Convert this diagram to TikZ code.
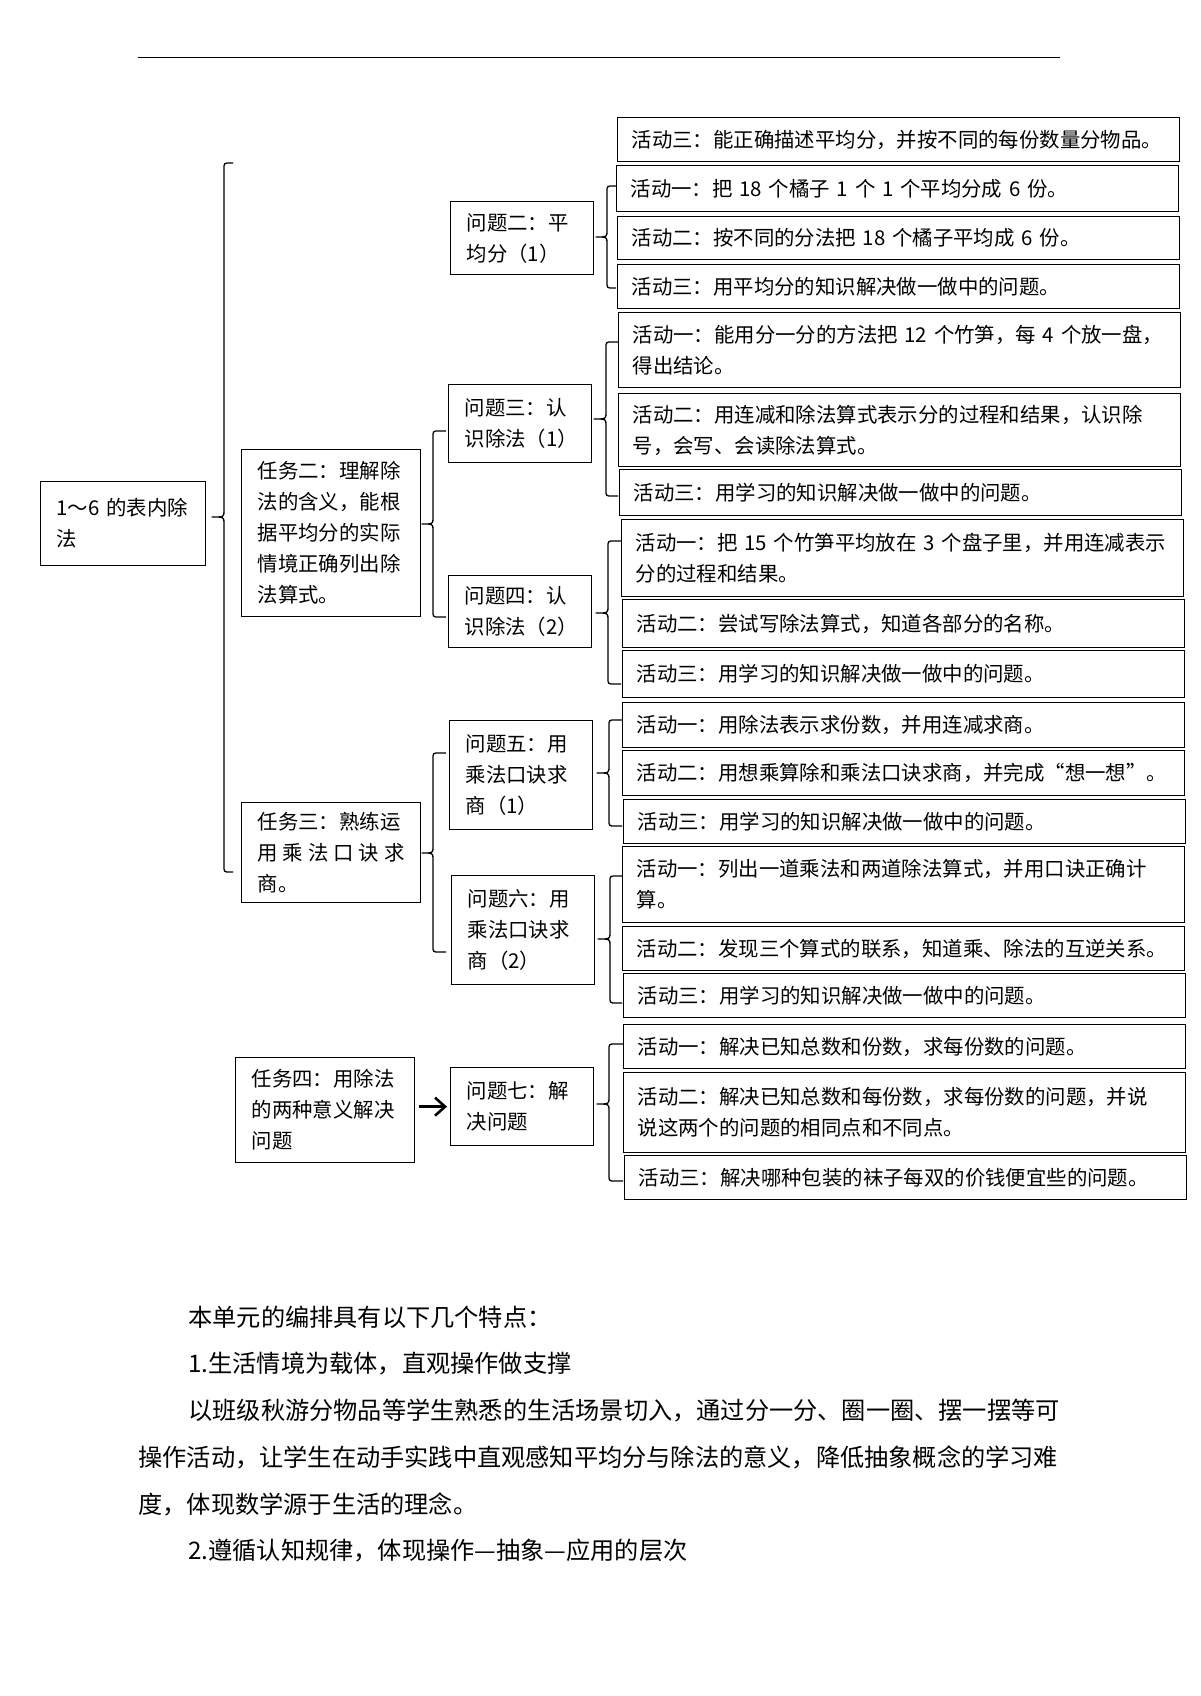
\documentclass[tikz,border=0pt]{standalone}
\usepackage{fontspec}
\setmainfont{Noto Sans CJK SC}
\usetikzlibrary{arrows.meta}

% brace from a parent box to its children: spine x, tip x, hook end x, top y, middle y, bottom y
\newcommand{\treebrace}[6]{%
  \draw[brace] (#3,#4) -- (#1+6,#4) .. controls (#1,#4) .. (#1,#4+6) -- (#1,#5-6)
    .. controls (#1,#5) .. (#2,#5) .. controls (#1,#5) .. (#1,#5+6) -- (#1,#6-6)
    .. controls (#1,#6) .. (#1+6,#6) -- (#3,#6);}

\tikzset{
  box/.style={draw, line width=0.65pt, anchor=north west, align=left, inner ysep=2pt,
    font=\fontsize{10.2pt}{15.5pt}\selectfont},
  actbox/.style={box, inner xsep=7pt, text width=267pt},
  quesbox/.style={box, inner xsep=8pt, text width=55.5pt},
  taskbox/.style={box, inner xsep=8pt, text width=73.5pt},
  rootbox/.style={box, inner xsep=8pt, text width=66.5pt},
  brace/.style={line width=0.65pt, line join=round},
  arrowline/.style={line width=1.3pt, -{Straight Barb[length=5pt,width=9pt]}},
  bodytext/.style={anchor=west, inner sep=0pt, font=\fontsize{12.1pt}{14pt}\selectfont}
}

\begin{document}
\begin{tikzpicture}[x=0.5pt, y=-0.5pt]
    \useasboundingbox (0,0) rectangle (1200,1696);
    \draw[line width=0.5pt] (138,58) -- (1060,58);

    % Unit and tasks
    \node[rootbox, minimum height=42pt] (root) at (40,481) {1～6 的表内除\\法};
    \node[taskbox, minimum height=83.5pt] (t2) at (241,449) {任务二：理解除\\法的含义，能根\\据平均分的实际\\情境正确列出除\\法算式。};
    \node[taskbox, minimum height=50pt] (t3) at (241,802) {任务三：熟练运\\\makebox[\linewidth]{用\hfill 乘\hfill 法\hfill 口\hfill 诀\hfill 求}\\商。};
    \node[taskbox, minimum height=52.5pt] (t4) at (235,1057) {任务四：用除法\\的两种意义解决\\问题};

    % Questions
    \node[quesbox, minimum height=36.5pt] (q2) at (450,201) {问题二：平\\均分（1）};
    \node[quesbox, minimum height=39pt] (q3) at (448,384) {问题三：认\\识除法（1）};
    \node[quesbox, minimum height=36pt] (q4) at (448,575) {问题四：认\\识除法（2）};
    \node[quesbox, minimum height=54.5pt] (q5) at (449,720) {问题五：用\\乘法口诀求\\商（1）};
    \node[quesbox, minimum height=54.5pt] (q6) at (451,875) {问题六：用\\乘法口诀求\\商（2）};
    \node[quesbox, minimum height=39pt] (q7) at (450,1067) {问题七：解\\决问题};

    % Activities
    \node[actbox, minimum height=22pt] (a20) at (617,117) {活动三：能正确描述平均分，并按不同的每份数量分物品。};
    \node[actbox, minimum height=23pt] (a21) at (616,165) {活动一：把~18~个橘子~1~个~1~个平均分成~6~份。};
    \node[actbox, minimum height=21.5pt] (a22) at (617,216) {活动二：按不同的分法把~18~个橘子平均成~6~份。};
    \node[actbox, minimum height=22pt] (a23) at (617,264) {活动三：用平均分的知识解决做一做中的问题。};
    \node[actbox, minimum height=37.5pt] (a31) at (618,312) {活动一：能用分一分的方法把~12~个竹笋，每~4~个放一盘，\\得出结论。};
    \node[actbox, minimum height=36.5pt] (a32) at (618,393) {活动二：用连减和除法算式表示分的过程和结果，认识除\\号，会写、会读除法算式。};
    \node[actbox, minimum height=23pt] (a33) at (619,469) {活动三：用学习的知识解决做一做中的问题。};
    \node[actbox, minimum height=38.5pt] (a41) at (621,519) {活动一：把~15~个竹笋平均放在~3~个盘子里，并用连减表示\\分的过程和结果。};
    \node[actbox, minimum height=24pt] (a42) at (622,599) {活动二：尝试写除法算式，知道各部分的名称。};
    \node[actbox, minimum height=23.5pt] (a43) at (622,650) {活动三：用学习的知识解决做一做中的问题。};
    \node[actbox, minimum height=22.5pt] (a51) at (622,702) {活动一：用除法表示求份数，并用连减求商。};
    \node[actbox, minimum height=22.5pt] (a52) at (622,750) {活动二：用想乘算除和乘法口诀求商，并完成“想一想”。};
    \node[actbox, minimum height=22pt] (a53) at (623,799) {活动三：用学习的知识解决做一做中的问题。};
    \node[actbox, minimum height=38pt] (a61) at (622,846) {活动一：列出一道乘法和两道除法算式，并用口诀正确计\\算。};
    \node[actbox, minimum height=22pt] (a62) at (622,926) {活动二：发现三个算式的联系，知道乘、除法的互逆关系。};
    \node[actbox, minimum height=22pt] (a63) at (623,973) {活动三：用学习的知识解决做一做中的问题。};
    \node[actbox, minimum height=22pt] (a71) at (623,1024) {活动一：解决已知总数和份数，求每份数的问题。};
    \node[actbox, minimum height=40pt] (a72) at (623,1072) {活动二：解决已知总数和每份数，求每份数的问题，并说\\说这两个的问题的相同点和不同点。};
    \node[actbox, minimum height=22pt] (a73) at (624,1155) {活动三：解决哪种包装的袜子每双的价钱便宜些的问题。};

    % Braces
    \treebrace{224}{212}{233}{163}{517}{872}
    \treebrace{433}{422}{446}{431}{524}{617}
    \treebrace{433}{422}{446}{753}{853}{952}
    \treebrace{607}{596}{616}{186}{237}{288}
    \treebrace{606}{594}{618}{342}{419}{496}
    \treebrace{608}{596}{621}{541}{613}{684}
    \treebrace{609}{597}{622}{720}{773}{826}
    \treebrace{610}{598}{622}{876}{939}{1003}
    \treebrace{609}{597}{623}{1044}{1104}{1181}
    \draw[arrowline, shorten <=2pt, shorten >=1.5pt] (t4.east |- q7.west) -- (q7.west);

    % Text below
    \node[bodytext] (p1) at (188,1317) {本单元的编排具有以下几个特点：};
    \node[bodytext] (p2) at (188,1364) {1.生活情境为载体，直观操作做支撑};
    \node[bodytext] (p3) at (188,1411) {以班级秋游分物品等学生熟悉的生活场景切入，通过分一分、圈一圈、摆一摆等可};
    \node[bodytext] (p4) at (138,1457) {操作活动，让学生在动手实践中直观感知平均分与除法的意义，降低抽象概念的学习难};
    \node[bodytext] (p5) at (138,1504) {度，体现数学源于生活的理念。};
    \node[bodytext] (p6) at (188,1551) {2.遵循认知规律，体现操作—抽象—应用的层次};
\end{tikzpicture}
\end{document}
